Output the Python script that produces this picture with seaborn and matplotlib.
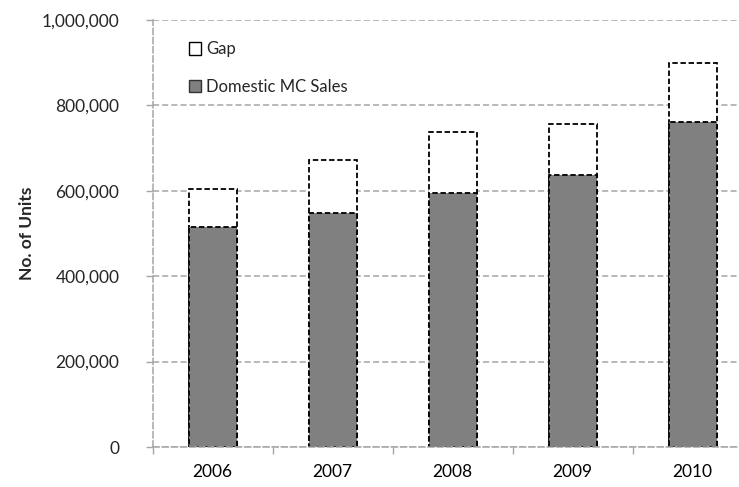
import matplotlib
matplotlib.use("Agg")
import matplotlib.pyplot as plt
import seaborn as sns
import pandas as pd
import numpy as np
from matplotlib.patches import Patch
from matplotlib.ticker import FuncFormatter, FixedLocator

# Annual figures (units)
years = ["2006", "2007", "2008", "2009", "2010"]
domestic_sales = [515000, 548000, 595000, 636000, 760000]
gap = [89000, 125000, 142000, 121000, 140000]

totals = [s + g for s, g in zip(domestic_sales, gap)]
df = pd.DataFrame({"year": years, "sales": domestic_sales, "total": totals})

sns.set_theme(style="white")
plt.rcParams["font.family"] = ["Lato", "DejaVu Sans"]

fig = plt.figure(figsize=(7.39, 4.87), dpi=100)
ax = fig.add_axes([152.7 / 739, 40 / 487, 600 / 739, 427 / 487])

edge_kw = dict(edgecolor="black", linewidth=1.3, linestyle=(0, (3, 1.5)))

# Gap drawn as the full stack height, then domestic sales over it
sns.barplot(data=df, x="year", y="total", color="white", width=0.4,
            saturation=1, ax=ax, **edge_kw)
sns.barplot(data=df, x="year", y="sales", color="#808080", width=0.4,
            saturation=1, ax=ax, **edge_kw)

ax.set_xlim(-0.5, 4.5)
ax.set_ylim(0, 1000000)
ax.yaxis.set_major_locator(FixedLocator(np.arange(0, 1000001, 200000)))
ax.yaxis.set_major_formatter(FuncFormatter(lambda v, p: f"{int(v):,}"))

grid_color = "#a6a6a6"
ax.grid(axis="y", color=grid_color, linestyle=(0, (4, 2)), linewidth=1.1)
ax.set_axisbelow(True)
for side in ["top", "right"]:
    ax.spines[side].set_visible(False)
for side in ["left", "bottom"]:
    ax.spines[side].set_color(grid_color)
    ax.spines[side].set_linestyle((0, (4, 2)))
    ax.spines[side].set_linewidth(1.1)

ax.set_xticks(range(len(years)))
ax.set_xticklabels(years)
ax.set_xticks(np.arange(-0.5, 5.0, 1.0), minor=True)
ax.tick_params(axis="x", which="major", length=0, pad=12, labelsize=12.5,
               colors="black")
ax.tick_params(axis="x", which="minor", length=5, color=grid_color, width=1,
               direction="out", bottom=True)
ax.tick_params(axis="y", length=5, color=grid_color, width=1, pad=19,
               labelsize=12.5, left=True, direction="out")

ax.set_xlabel("")
ax.set_ylabel("No. of Units", fontsize=12.5, fontweight="bold", labelpad=5)

handles = [
    Patch(facecolor="white", edgecolor="black", linewidth=1.0, label="Gap"),
    Patch(facecolor="#808080", edgecolor="#333333", linewidth=1.0,
          label="Domestic MC Sales"),
]
ax.legend(handles=handles, loc="upper left", bbox_to_anchor=(0.035, 0.985),
          frameon=False, fontsize=12, handlelength=0.75, handleheight=0.75,
          handletextpad=0.3, labelspacing=1.3)

fig.savefig("out.png", dpi=100)
